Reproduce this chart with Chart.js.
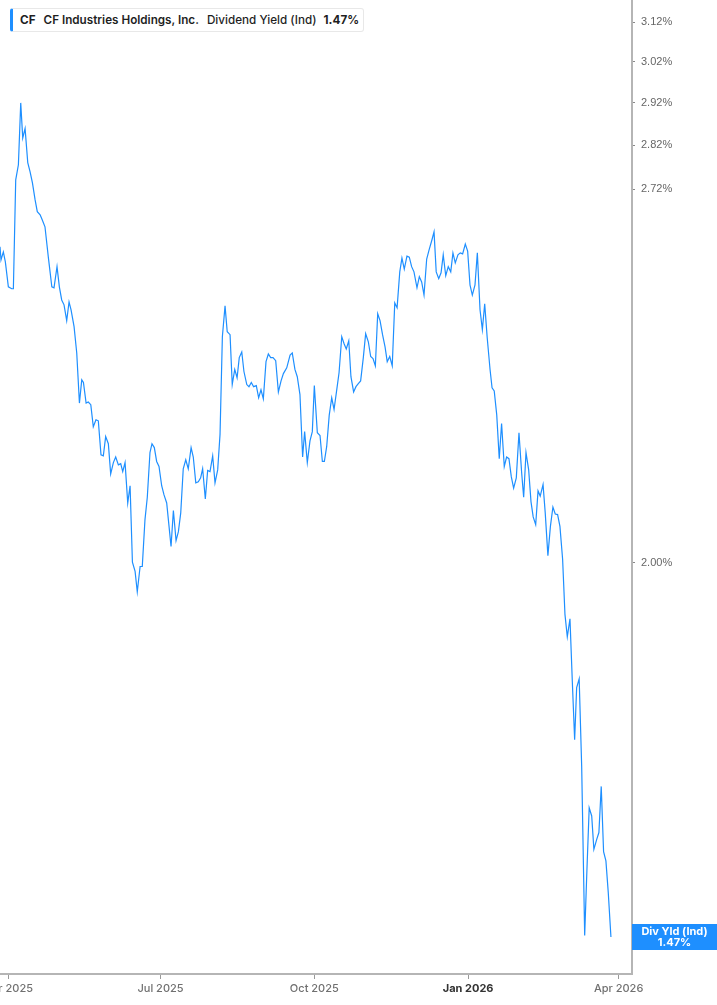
<!DOCTYPE html>
<html>
<head>
<meta charset="utf-8">
<script src="https://cdn.jsdelivr.net/npm/chart.js@4.4.1/dist/chart.umd.min.js"></script>
<style>
  html, body { margin: 0; padding: 0; background: #fff; }
  #wrap { position: relative; width: 717px; height: 1005px; overflow: hidden; }
  #hdr {
    position: absolute; left: 10px; top: 8px; height: 24px; width: 354px;
    box-sizing: border-box; border: 1px solid #e8e8e8; border-left: 3px solid #1e8fff;
    border-radius: 3px; background: #fff;
    font-family: Inter, sans-serif; font-size: 11.7px; color: #1f1f1f;
    line-height: 22px; white-space: nowrap; padding-left: 7px;
  }
  #hdr .sym { font-weight: 700; }
  #hdr .name { font-weight: 600; margin-left: 8px; }
  #hdr .metric { font-weight: 500; margin-left: 8px; }
  #hdr .val { font-weight: 700; margin-left: 7px; }
</style>
</head>
<body>
<div id="wrap">
  <canvas id="yieldChart" width="717" height="1005"></canvas>
  <div id="hdr"><span class="sym">CF</span><span class="name">CF Industries Holdings, Inc.</span><span class="metric">Dividend Yield (Ind)</span><span class="val">1.47%</span></div>
</div>
<script>
// days counted from 1 Apr 2025
const dayOffsets = [
  -5.0, -4.4, -3.0, -1.8, 0, 2.0, 3.0, 4.4, 6.0, 7.4, 8.6, 10.0, 11.6, 13.0, 14.4, 16.0, 17.3, 19.0, 20.3, 21.9,
  23.9, 26.0, 27.3, 29.1, 30.5, 31.9, 33.3, 34.9, 36.3, 37.5, 39.3, 40.9, 42.5, 43.9, 44.9, 46.5, 47.8, 49.3, 50.8, 52.4,
  53.8, 55.4, 56.8, 58.2, 59.8, 61.2, 62.8, 64.2, 65.8, 67.2, 68.4, 69.8, 71.4, 72.8, 74.2, 75.8, 77.1, 78.8, 80.1, 81.7,
  83.1, 84.7, 85.9, 87.3, 88.7, 90.1, 91.7, 93.1, 94.7, 96.1, 97.3, 98.7, 100.3, 101.7, 103.1, 104.6, 106.1, 107.6, 109.3, 110.6,
  112.1, 113.6, 115.0, 116.2, 117.8, 119.2, 120.6, 122.2, 123.6, 125.2, 126.6, 128.0, 129.6, 130.9, 132.6, 133.9, 135.4, 136.8, 138.1, 139.6,
  140.9, 142.6, 143.9, 145.3, 146.7, 148.3, 149.7, 151.1, 152.5, 154.1, 155.5, 156.9, 158.3, 159.9, 161.5, 163.1, 164.5, 166.5, 168.5, 169.8,
  171.4, 172.8, 174.4, 176.0, 177.2, 178.8, 180.4, 181.8, 183.0, 184.8, 186.4, 187.8, 189.0, 190.4, 191.9, 193.4, 194.8, 196.4, 197.8, 199.4,
  200.8, 202.1, 203.6, 204.9, 206.5, 207.9, 209.3, 210.7, 212.3, 213.7, 215.3, 216.7, 218.1, 219.5, 220.9, 222.3, 223.8, 225.3, 226.6, 228.1,
  229.6, 231.1, 232.5, 234.1, 235.4, 236.8, 238.4, 239.8, 241.2, 242.6, 244.4, 245.8, 247.2, 248.6, 250.2, 251.6, 253.2, 254.6, 255.9, 257.4,
  258.8, 260.1, 261.6, 263.1, 264.6, 265.9, 267.3, 268.9, 270.3, 271.7, 273.3, 274.7, 276.1, 277.5, 279.1, 280.5, 282.1, 283.5, 284.9, 286.4,
  288.1, 289.3, 290.6, 292.1, 293.6, 295.0, 296.6, 298.0, 299.4, 300.8, 302.2, 303.8, 305.4, 307.0, 308.2, 309.6, 311.2, 312.6, 313.9, 315.4,
  316.8, 318.1, 319.8, 321.1, 322.7, 324.2, 325.7, 327.1, 328.5, 329.9, 331.5, 332.9, 334.3, 335.9, 337.3, 338.7, 339.9, 341.4, 342.9, 344.7,
  345.9, 347.4, 348.9, 350.2, 351.9, 353.2, 354.6, 356.0, 357.4, 358.8, 360.4
];

// dividend yield, percent
const divYield = [
  2.594, 2.566, 2.583, 2.562, 2.510, 2.506, 2.506, 2.741, 2.775, 2.920, 2.837, 2.859, 2.780, 2.759, 2.734, 2.696, 2.670, 2.663, 2.652, 2.637,
  2.572, 2.510, 2.508, 2.552, 2.510, 2.483, 2.473, 2.441, 2.479, 2.463, 2.429, 2.377, 2.281, 2.325, 2.320, 2.281, 2.283, 2.278, 2.237, 2.250,
  2.248, 2.186, 2.184, 2.219, 2.206, 2.152, 2.172, 2.182, 2.168, 2.170, 2.156, 2.172, 2.101, 2.131, 2.001, 1.986, 1.953, 1.994, 1.994, 2.072,
  2.111, 2.190, 2.206, 2.199, 2.174, 2.165, 2.131, 2.115, 2.101, 2.061, 2.027, 2.088, 2.037, 2.052, 2.084, 2.161, 2.177, 2.161, 2.199, 2.182,
  2.136, 2.138, 2.145, 2.161, 2.108, 2.158, 2.156, 2.184, 2.136, 2.159, 2.223, 2.409, 2.471, 2.419, 2.413, 2.316, 2.345, 2.329, 2.368, 2.379,
  2.341, 2.316, 2.312, 2.320, 2.312, 2.314, 2.291, 2.306, 2.289, 2.360, 2.375, 2.368, 2.368, 2.362, 2.302, 2.323, 2.337, 2.348, 2.373, 2.377,
  2.345, 2.331, 2.297, 2.182, 2.228, 2.172, 2.211, 2.228, 2.314, 2.226, 2.221, 2.174, 2.174, 2.201, 2.258, 2.291, 2.269, 2.306, 2.339, 2.409,
  2.395, 2.385, 2.401, 2.331, 2.302, 2.312, 2.318, 2.323, 2.368, 2.415, 2.399, 2.370, 2.366, 2.352, 2.455, 2.441, 2.413, 2.389, 2.360, 2.370,
  2.352, 2.477, 2.467, 2.541, 2.570, 2.547, 2.574, 2.572, 2.552, 2.541, 2.508, 2.531, 2.520, 2.493, 2.568, 2.587, 2.607, 2.626, 2.541, 2.527,
  2.539, 2.577, 2.533, 2.552, 2.541, 2.581, 2.560, 2.577, 2.581, 2.579, 2.600, 2.585, 2.514, 2.493, 2.514, 2.581, 2.463, 2.423, 2.475, 2.407,
  2.345, 2.310, 2.304, 2.259, 2.179, 2.243, 2.165, 2.182, 2.179, 2.147, 2.127, 2.145, 2.226, 2.154, 2.111, 2.190, 2.159, 2.103, 2.077, 2.064,
  2.122, 2.113, 2.133, 2.084, 2.012, 2.061, 2.094, 2.082, 2.081, 2.061, 2.006, 1.917, 1.882, 1.910, 1.814, 1.729, 1.805, 1.818, 1.692, 1.472,
  1.545, 1.635, 1.624, 1.580, 1.593, 1.602, 1.664, 1.577, 1.565, 1.525, 1.470
];

const xTickDays = [0, 91, 183, 275, 365];
const xTickLabels = ['Apr 2025', 'Jul 2025', 'Oct 2025', 'Jan 2026', 'Apr 2026'];
const boldTickLabel = 'Jan 2026';
const yTickValues = [2.00, 2.72, 2.82, 2.92, 3.02, 3.12];

const lineBlue = '#1e8fff';
const axisGrey = '#b5b5b5';

function isBoldTick(c) {
    return !!(c && c.tick && xTickLabels[xTickDays.indexOf(c.tick.value)] === boldTickLabel);
}

// blue last-value tag on the right axis
const lastValueTag = {
    id: 'lastValueTag',
    afterDraw(chart) {
        const ctx = chart.ctx;
        const yScale = chart.scales.y;
        const last = divYield[divYield.length - 1];
        const y = yScale.getPixelForValue(last);
        const left = chart.chartArea.right;
        const w = chart.width - left;
        const h = 26;
        ctx.save();
        ctx.fillStyle = lineBlue;
        ctx.fillRect(left, Math.round(y - h / 2), w, h);
        ctx.fillStyle = '#fff';
        ctx.font = '700 11px Inter, sans-serif';
        ctx.textAlign = 'center';
        ctx.textBaseline = 'middle';
        ctx.fillText('Div Yld (Ind)', left + w / 2, y - 5);
        ctx.fillText(last.toFixed(2) + '%', left + w / 2, y + 6);
        ctx.restore();
    }
};

document.addEventListener('DOMContentLoaded', () => {
    const ctx = document.getElementById('yieldChart').getContext('2d');
    const points = dayOffsets.map((d, i) => ({ x: d, y: divYield[i] }));

    window.yieldChart = new Chart(ctx, {
        type: 'line',
        data: {
            datasets: [{
                label: 'Dividend Yield (Ind)',
                data: points,
                borderColor: lineBlue,
                borderWidth: 1.2,
                pointRadius: 0,
                tension: 0,
                fill: false
            }]
        },
        options: {
            responsive: false,
            animation: false,
            devicePixelRatio: 1,
            layout: { padding: 0 },
            plugins: {
                legend: { display: false },
                tooltip: { enabled: false }
            },
            scales: {
                x: {
                    type: 'linear',
                    position: 'bottom',
                    min: -5,
                    max: 373,
                    afterBuildTicks: scale => {
                        scale.ticks = xTickDays.map(v => ({ value: v }));
                    },
                    afterFit: scale => {
                        scale.height = 31;
                        scale.paddingLeft = 0;
                        scale.paddingRight = 0;
                    },
                    ticks: {
                        autoSkip: false,
                        maxRotation: 0,
                        padding: 3,
                        color: c => (isBoldTick(c) ? '#333' : '#707070'),
                        font: c => ({
                            family: 'Inter, sans-serif',
                            size: 11,
                            weight: isBoldTick(c) ? '700' : '500'
                        }),
                        callback: value => xTickLabels[xTickDays.indexOf(value)]
                    },
                    grid: { drawOnChartArea: false, drawTicks: true, tickLength: 5, tickColor: '#999' },
                    border: { display: true, color: axisGrey, width: 2 }
                },
                y: {
                    type: 'logarithmic',
                    position: 'right',
                    min: 1.426,
                    max: 3.178,
                    afterBuildTicks: scale => {
                        scale.ticks = yTickValues.map(v => ({ value: v }));
                    },
                    afterFit: scale => {
                        scale.width = 85;
                        scale.paddingTop = 0;
                        scale.paddingBottom = 0;
                    },
                    ticks: {
                        autoSkip: false,
                        padding: 6,
                        color: '#666',
                        font: { family: 'Liberation Sans, Arial, sans-serif', size: 11 },
                        callback: value => value.toFixed(2) + '%'
                    },
                    grid: { drawOnChartArea: false, drawTicks: true, tickLength: 3, tickColor: '#888' },
                    border: { display: true, color: axisGrey, width: 2 }
                }
            }
        },
        plugins: [lastValueTag]
    });
});
</script>
</body>
</html>
